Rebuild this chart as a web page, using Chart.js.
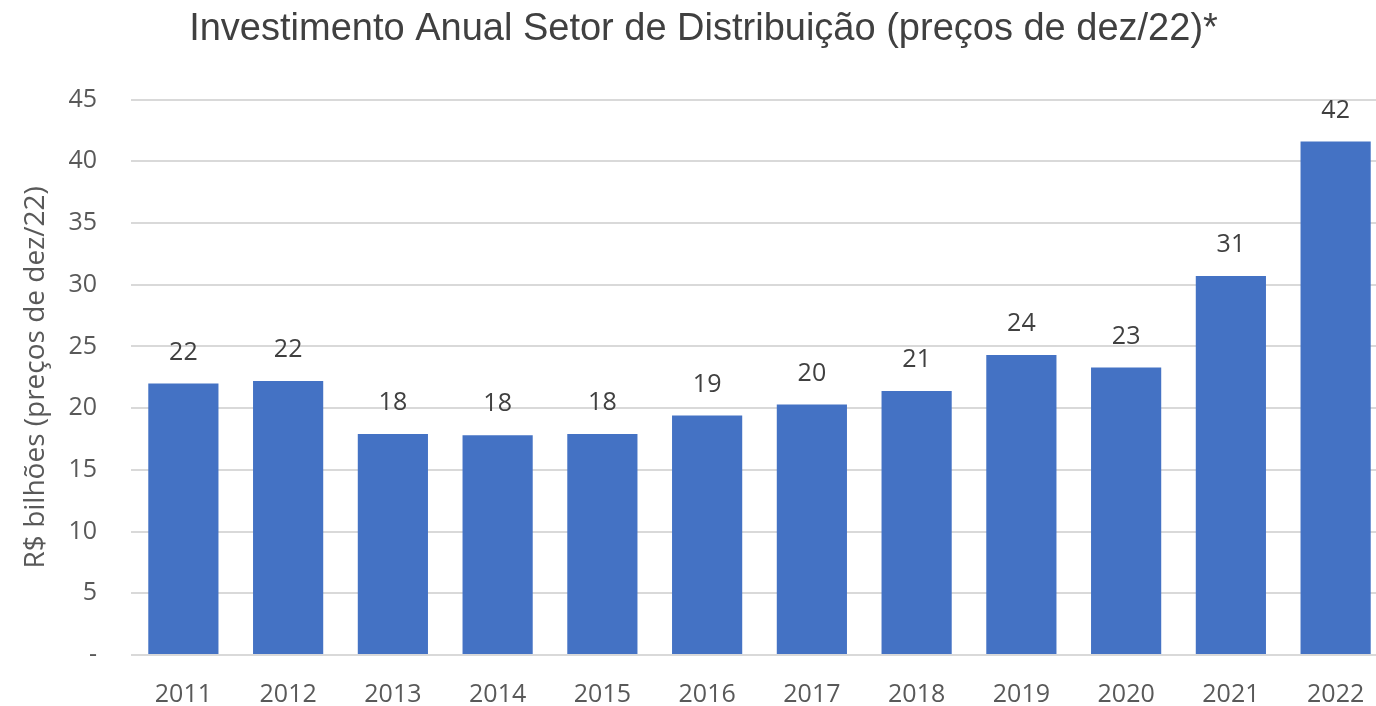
<!DOCTYPE html>
<html>
<head>
<meta charset="utf-8">
<script src="https://cdn.jsdelivr.net/npm/chart.js@4"></script>
<style>
 html,body{margin:0;padding:0;background:#fff;overflow:hidden}
 #wrap{width:1388px;height:706px}
</style>
</head>
<body>
<div id="wrap"><canvas id="chart"></canvas></div>
<script>
/* ===== dados ===== */
const years = ["2011","2012","2013","2014","2015","2016","2017","2018","2019","2020","2021","2022"];
const investimento = [22.0, 22.2, 17.9, 17.8, 17.9, 19.4, 20.3, 21.4, 24.3, 23.3, 30.7, 41.6];
const rotulos = ["22","22","18","18","18","19","20","21","24","23","31","42"];
const yTicks = [0,5,10,15,20,25,30,35,40,45];

const cinza = "#595959";
const fonte = "'Open Sans', 'DejaVu Sans', sans-serif";

/* ===== rótulos de dados ===== */
const valoresPlugin = {
 id:"valores",
 afterDatasetsDraw(c){
  const ctx=c.ctx;
  ctx.save();
  ctx.fillStyle="#404040";
  ctx.font="25px "+fonte;
  ctx.textAlign="center";
  ctx.textBaseline="middle";
  c.getDatasetMeta(0).data.forEach((bar,i)=>{
   ctx.fillText(rotulos[i],bar.x,bar.y-31);
  });
  ctx.restore();
 }
};

new Chart(document.getElementById("chart"),{
 type:"bar",
 data:{
  labels:years,
  datasets:[{
   data:investimento,
   backgroundColor:"#4472c4",
   borderWidth:0,
   categoryPercentage:1,
   barPercentage:0.67
  }]
 },
 options:{
  responsive:true,
  maintainAspectRatio:false,
  animation:false,
  layout:{padding:{top:0,right:0,bottom:0,left:19}},
  plugins:{
   legend:{display:false},
   tooltip:{enabled:false},
   title:{
    display:true,
    text:"Investimento Anual Setor de Distribuição (preços de dez/22)*",
    color:"#404040",
    font:{family:"'Liberation Sans', Arial, sans-serif",size:38,weight:"normal"},
    padding:{top:7,bottom:47}
   }
  },
  scales:{
   x:{
    afterFit(axis){axis.height=51;},
    grid:{display:false},
    border:{display:false},
    ticks:{color:cinza,font:{family:fonte,size:25},padding:17}
   },
   y:{
    min:0,max:45,
    afterBuildTicks(axis){axis.ticks=yTicks.map(v=>({value:v}));},
    afterFit(axis){axis.width=112;},
    grid:{color:"#d9d9d9",lineWidth:2,drawTicks:false},
    border:{display:false},
    ticks:{
     color:cinza,font:{family:fonte,size:25},padding:34,
     callback:v=>v===0?"-":v
    },
    title:{
     display:true,
     text:"R$ bilhões (preços de dez/22)",
     color:cinza,
     font:{family:fonte,size:28},
     padding:0
    }
   }
  }
 },
 plugins:[valoresPlugin]
});
</script>
</body>
</html>
